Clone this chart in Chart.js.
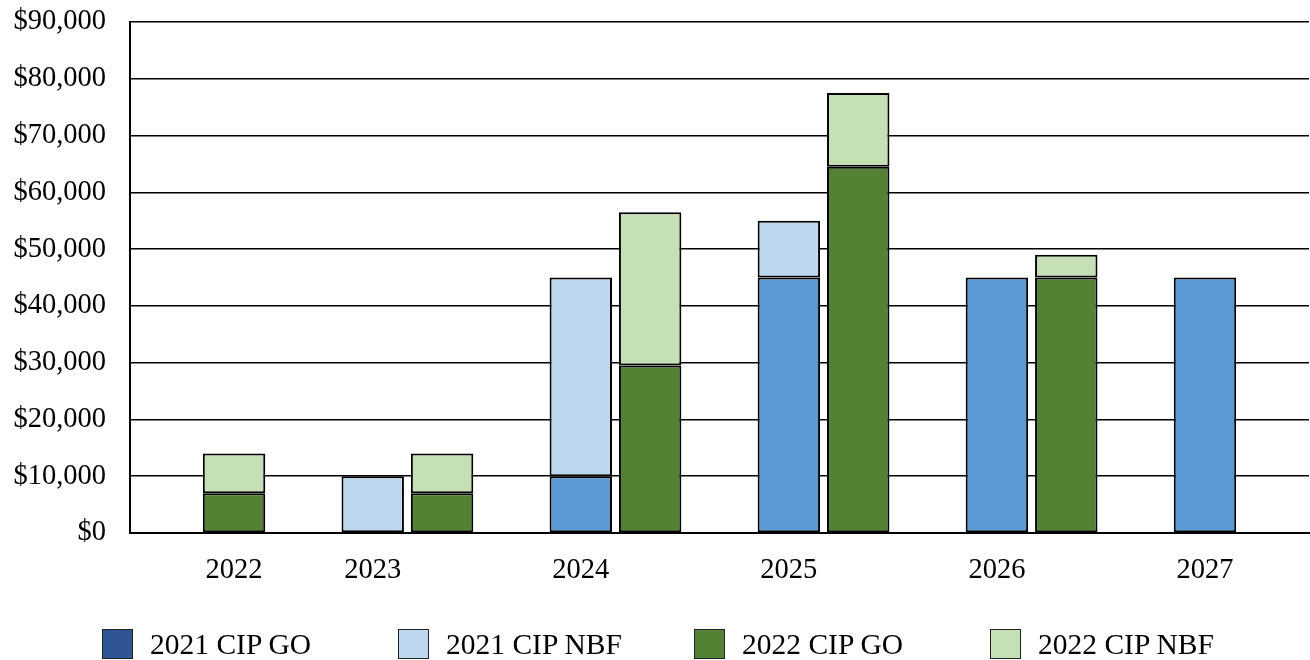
<!DOCTYPE html>
<html>
<head>
<meta charset="utf-8">
<title>CIP chart</title>
<script src="https://cdn.jsdelivr.net/npm/chart.js@4.4.1/dist/chart.umd.min.js"></script>
<style>
    html, body {
        margin: 0;
        padding: 0;
        background: #ffffff;
        overflow: hidden;
    }
    #wrap {
        position: relative;
        width: 1310px;
        height: 660px;
    }
    #legend {
        position: absolute;
        left: 102px;
        top: 629px;
        display: flex;
        font-family: "Liberation Serif", "Times New Roman", serif;
        font-size: 29.5px;
        color: #000;
    }
    .item {
        width: 296px;
        display: flex;
        align-items: center;
        height: 30px;
    }
    .box {
        width: 31px;
        height: 30px;
        border: 1px solid #222;
        box-sizing: border-box;
        margin-right: 17px;
    }
</style>
</head>
<body>
<div id="wrap">
    <canvas id="chart" width="1310" height="660"></canvas>
    <div id="legend"></div>
</div>

<script>
// slots on the x axis: one column per plan, blank slot between years
const categories = ["", "2022", "", "2023", "", "", "2024", "", "", "2025", "", "", "2026", "", "", "2027", ""];

const go2021  = [null, null, null, null,  null, null, 10000, null, null, 45000, null, null, 45000, null, null, 45000, null];
const nbf2021 = [null, null, null, 10000, null, null, 35000, null, null, 10000, null, null, null,  null, null, null,  null];
const go2022  = [null, 7000, null, null,  7000, null, null, 29500, null, null, 64500, null, null, 45000, null, null, null];
const nbf2022 = [null, 7000, null, null,  7000, null, null, 27000, null, null, 13000, null, null, 4000,  null, null, null];

const seriesNames = ["2021 CIP GO", "2021 CIP NBF", "2022 CIP GO", "2022 CIP NBF"];
const barColors = ["#5B9BD5", "#BDD7EE", "#548235", "#C5E0B4"];
const legendColors = ["#2F5597", "#BDD7EE", "#548235", "#C5E0B4"];

const yTicks = [0, 10000, 20000, 30000, 40000, 50000, 60000, 70000, 80000, 90000];

const FONT = "'Liberation Serif', 'Times New Roman', serif";

function makeSet(i, values) {
    return {
        label: seriesNames[i],
        data: values,
        backgroundColor: barColors[i],
        borderColor: "#000000",
        borderWidth: 2,
        borderSkipped: false,
        stack: "all",
        barPercentage: 0.9,
        categoryPercentage: 1.0
    };
}

const canvas = document.getElementById("chart");

new Chart(canvas, {
    type: "bar",
    data: {
        labels: categories,
        datasets: [
            makeSet(0, go2021),
            makeSet(1, nbf2021),
            makeSet(2, go2022),
            makeSet(3, nbf2022)
        ]
    },
    options: {
        responsive: false,
        animation: false,
        layout: {
            padding: { top: 22, right: 1, left: 0, bottom: 0 }
        },
        plugins: {
            legend: { display: false },
            tooltip: { enabled: false }
        },
        scales: {
            x: {
                stacked: true,
                grid: { display: false, drawTicks: false },
                border: { display: true, color: "#000000", width: 2 },
                ticks: {
                    autoSkip: false,
                    maxRotation: 0,
                    color: "#000000",
                    padding: 20,
                    font: { family: FONT, size: 28.5 }
                },
                afterFit: function (scale) {
                    scale.height = 127;
                    scale.paddingLeft = 0;
                    scale.paddingRight = 0;
                }
            },
            y: {
                stacked: true,
                min: 0,
                max: 90000,
                afterBuildTicks: function (scale) {
                    scale.ticks = yTicks.map(v => ({ value: v }));
                },
                grid: {
                    color: "#000000",
                    lineWidth: 1.6,
                    drawTicks: false
                },
                border: { display: true, color: "#000000", width: 2 },
                ticks: {
                    color: "#000000",
                    padding: 24,
                    font: { family: FONT, size: 28.5 },
                    callback: function (value) {
                        return "$" + Number(value).toLocaleString("en-US");
                    }
                },
                afterFit: function (scale) {
                    scale.width = 130;
                    scale.paddingTop = 0;
                    scale.paddingBottom = 0;
                }
            }
        }
    }
});

// legend below the plot
const legend = document.getElementById("legend");
seriesNames.forEach((name, i) => {
    const item = document.createElement("div");
    item.className = "item";
    const box = document.createElement("div");
    box.className = "box";
    box.style.background = legendColors[i];
    const text = document.createElement("span");
    text.textContent = name;
    item.appendChild(box);
    item.appendChild(text);
    legend.appendChild(item);
});
</script>
</body>
</html>
